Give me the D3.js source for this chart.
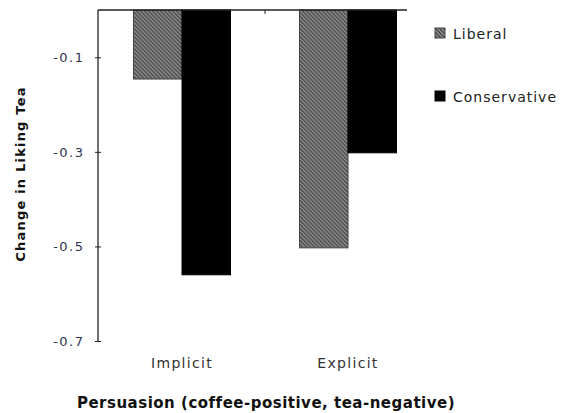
<!DOCTYPE html>
<html><head><meta charset="utf-8">
<script src="https://cdn.jsdelivr.net/npm/d3@7"></script>
<style>body{margin:0;background:#fff}svg{display:block}text{font-family:"DejaVu Sans",Verdana,sans-serif}</style>
</head><body><svg id="c" width="565" height="413"></svg>
<script>
const categories = ["Implicit", "Explicit"];
const seriesNames = ["Liberal", "Conservative"];
const liberal = [-0.146, -0.503];
const conservative = [-0.560, -0.302];
const yTicks = [-0.1, -0.3, -0.5, -0.7];

const svg = d3.select("#c");
const defs = svg.append("defs");
const pat = defs.append("pattern").attr("id","hatch").attr("patternUnits","userSpaceOnUse")
  .attr("width",4).attr("height",4);
pat.append("rect").attr("width",4).attr("height",4).attr("fill","#8f8f8f");
pat.append("path").attr("d","M-1,-1 L5,5 M-1,3 L1,5 M3,-1 L5,1").attr("stroke","#333").attr("stroke-width",1.1);

const y = d3.scaleLinear().domain([0,-0.7]).range([10,341]);
const x = d3.scaleBand().domain(categories).range([99,431]).padding(0);
const xs = d3.scaleBand().domain(seriesNames).range([0,97]);
const offset = (x.bandwidth()-97)/2;
const fills = {Liberal:"url(#hatch)", Conservative:"#000"};
const data = categories.map((c,i)=>({cat:c, vals:[{s:"Liberal",v:liberal[i]},{s:"Conservative",v:conservative[i]}]}));

const g = svg.append("g");
g.selectAll("g.grp").data(data).join("g").attr("class","grp")
  .attr("transform",d=>`translate(${x(d.cat)+offset},0)`)
  .selectAll("rect").data(d=>d.vals).join("rect")
  .attr("x",d=>xs(d.s)).attr("width",xs.bandwidth())
  .attr("y",y(0)).attr("height",d=>y(d.v)-y(0))
  .attr("fill",d=>fills[d.s])
  .attr("stroke",d=>d.s==="Liberal"?"#444":"#000").attr("stroke-width",1);

// y axis
const ya = svg.append("g").attr("transform","translate(98,0)")
  .call(d3.axisLeft(y).tickValues(yTicks).tickFormat(d3.format(".1f")).tickSize(4).tickSizeOuter(0));
ya.select(".domain").attr("stroke","#222").attr("stroke-width",1.3).attr("d",`M0,${y(0)}V${y(-0.7)}`);
ya.selectAll(".tick line").attr("stroke","#222").attr("x2",3).attr("x1",-3);
ya.selectAll(".tick text").attr("x",-13.5).attr("font-size",13).attr("letter-spacing",1.5).attr("fill","#2f3350")
  .text(d=>"-"+Math.abs(d).toFixed(1));

// top category axis line
svg.append("path").attr("d",`M98,${y(0)}H407`).attr("stroke","#222").attr("stroke-width",1.3);
svg.append("line").attr("x1",x.range()[0]+x.step()).attr("x2",x.range()[0]+x.step())
  .attr("y1",y(0)).attr("y2",y(0)+4).attr("stroke","#222");

// category labels
svg.selectAll("text.cat").data(categories).join("text").attr("class","cat")
  .attr("x",d=>x(d)+x.bandwidth()/2).attr("y",368).attr("text-anchor","middle")
  .attr("font-size",14).attr("letter-spacing",1.3).attr("fill","#333").text(d=>d);

// axis titles
svg.append("text").attr("x",266).attr("y",408).attr("text-anchor","middle")
  .attr("font-size",15).attr("letter-spacing",0.5).attr("font-weight","bold").attr("fill","#111")
  .text("Persuasion (coffee-positive, tea-negative)");
svg.append("text").attr("transform","translate(25,174) rotate(-90)").attr("text-anchor","middle")
  .attr("font-size",13).attr("letter-spacing",1.2).attr("font-weight","bold").attr("fill","#111")
  .text("Change in Liking Tea");

// legend
const leg = svg.selectAll("g.leg").data(seriesNames).join("g").attr("class","leg")
  .attr("transform",(d,i)=>`translate(435,${28+i*63})`);
leg.append("rect").attr("width",10).attr("height",10).attr("fill",d=>fills[d]).attr("stroke",d=>d==="Liberal"?"#444":"#000");
leg.append("text").attr("x",18).attr("y",10.5).attr("font-size",14).attr("letter-spacing",1).attr("fill","#222").text(d=>d);
</script></body></html>
